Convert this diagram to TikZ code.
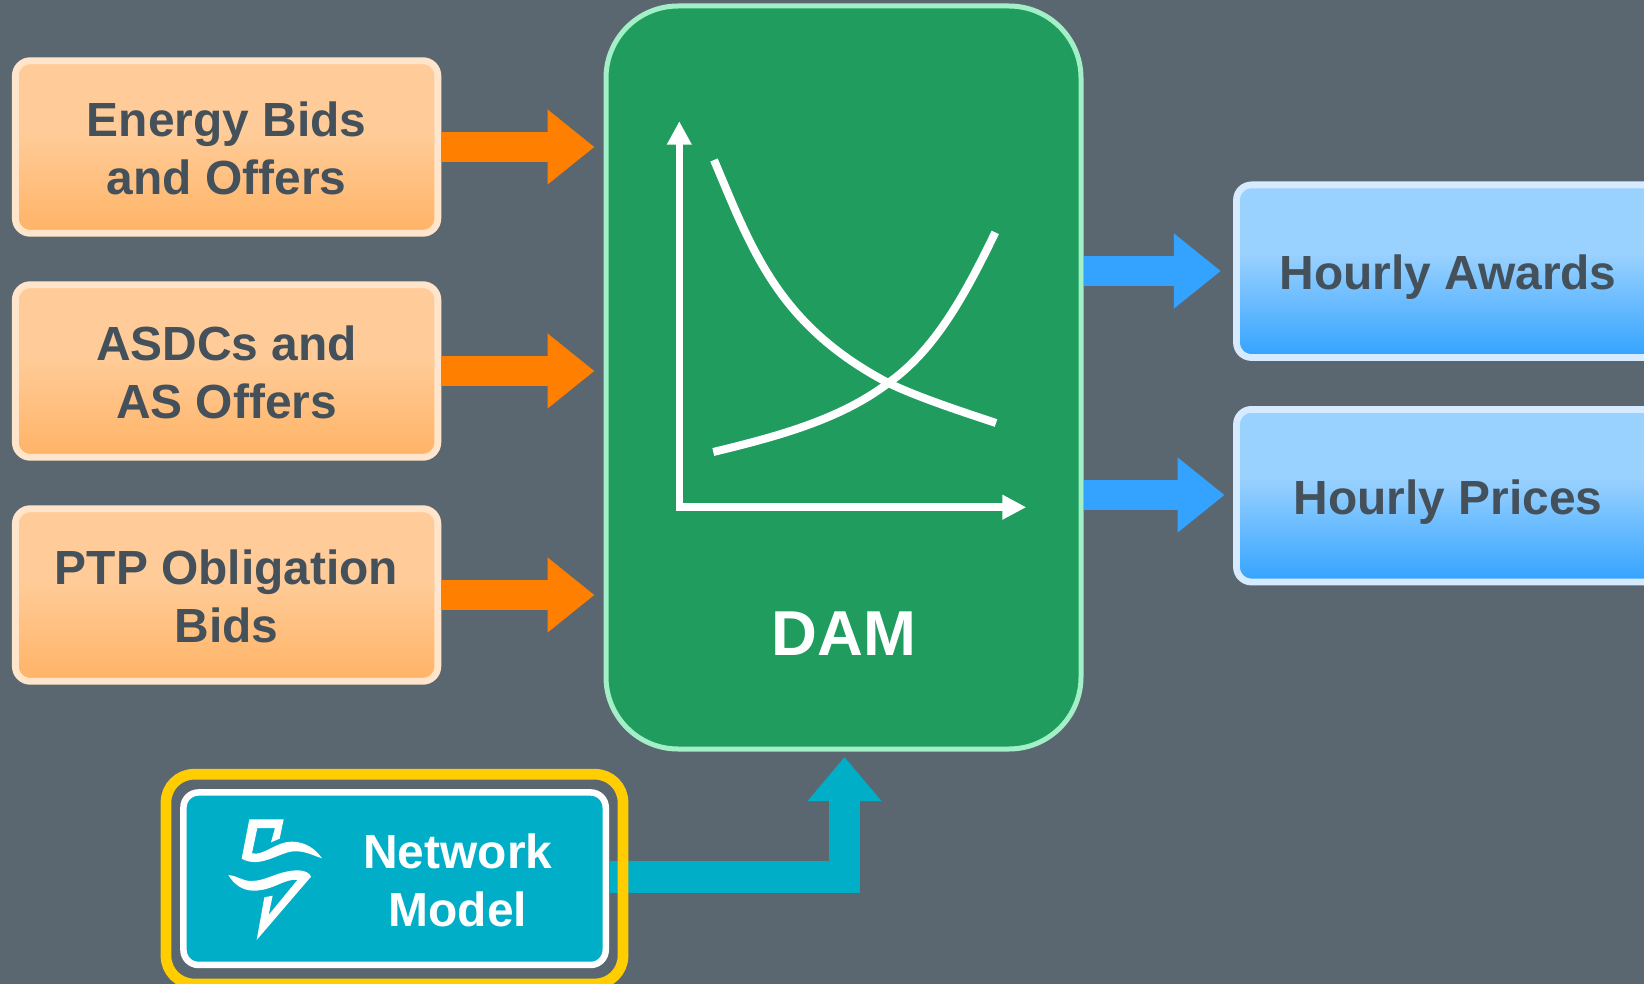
\documentclass[tikz,border=0pt]{standalone}
\usepackage{fontspec}
\setmainfont{Liberation Sans}
\usetikzlibrary{arrows.meta}
\definecolor{bgc}{HTML}{5B6770}
\definecolor{txt}{HTML}{44505A}
\definecolor{orT}{HTML}{FFCC99}
\definecolor{orB}{HTML}{FFB366}
\definecolor{orE}{HTML}{FFE5CC}
\definecolor{orA}{HTML}{FF8000}
\definecolor{blT}{HTML}{99D1FF}
\definecolor{blB}{HTML}{33A3FF}
\definecolor{blE}{HTML}{D6EBFF}
\definecolor{grF}{HTML}{1F9C5E}
\definecolor{grE}{HTML}{A3EFC8}
\definecolor{teal1}{HTML}{00AEC7}
\definecolor{yel}{HTML}{FFCD00}
\pgfdeclareverticalshading{orshade}{100bp}{color(0bp)=(orB); color(25bp)=(orB); color(55bp)=(orT); color(100bp)=(orT)}
\pgfdeclareverticalshading{blshade}{100bp}{color(0bp)=(blB); color(25bp)=(blB); color(55bp)=(blT); color(100bp)=(blT)}
\newcommand{\twolines}[2]{\rule{0pt}{52pt}#1\\#2\rule[-15.3pt]{0pt}{15.3pt}}
\newcommand{\oneline}[1]{\rule[-14.4pt]{0pt}{66.4pt}#1}
\tikzset{
  inbox/.style={shading=orshade, draw=orE, line width=6.8pt, rounded corners=15pt, minimum width=422.5pt, minimum height=172.6pt, inner sep=0pt, align=center, text=txt, font=\fontsize{47.9}{57.7}\selectfont\bfseries},
  outbox/.style={shading=blshade, draw=blE, line width=6.8pt, rounded corners=15pt, minimum width=423pt, minimum height=172.6pt, inner sep=0pt, align=center, text=txt, font=\fontsize{47.9}{57.7}\selectfont\bfseries},
  inarrow/.style={orA, line width=30.5pt, -{Triangle[length=47pt,width=72pt]}, shorten >=9pt},
  outarrow/.style={blB, line width=30.5pt, -{Triangle[length=47pt,width=72pt]}},
  axisline/.style={white, line width=7.6pt, {Triangle[length=23.5pt,width=23.4pt]}-{Triangle[length=24pt,width=23.4pt]}},
  curveline/.style={white, line width=8pt},
}
\begin{document}
\begin{tikzpicture}[x=1pt,y=-1pt]
\clip (0,0) rectangle (1644,984);
\fill[bgc] (0,0) rectangle (1644,984);

% inputs
\node[inbox] (energy) at (226.6,147) {\twolines{Energy Bids}{and Offers}};
\node[inbox] (asdc) at (226.6,371) {\twolines{ASDCs and}{AS Offers}};
\node[inbox] (ptp) at (226.6,595) {\twolines{PTP Obligation}{Bids}};

% market
\node[draw=grE, fill=grF, line width=5pt, rounded corners=72pt, minimum width=475pt, minimum height=743pt, inner sep=0pt] (dam) at (843.5,377.5) {};
\node[anchor=base, text=white, font=\fontsize{63.5}{70}\selectfont\bfseries] (damlabel) at (843.8,655) {DAM};

\draw[inarrow] (energy.east) -- (energy.east -| dam.west);
\draw[inarrow] (asdc.east) -- (asdc.east -| dam.west);
\draw[inarrow] (ptp.east) -- (ptp.east -| dam.west);

% chart
\draw[axisline] (679.3,121.2) -- (679.3,507.2) -- (1026.3,507.2);
\draw[curveline] (714,160) .. controls (752,250) and (778,325) .. (888.3,383) .. controls (920,398) and (960,411) .. (996,423);
\draw[curveline] (713.3,452) .. controls (775,437) and (840,420) .. (888.3,383) .. controls (935,350) and (965,295) .. (995.3,232.4);

% outputs
\node[outbox] (awards) at (1448,271.2) {\oneline{Hourly Awards}};
\node[outbox] (prices) at (1448,495.7) {\oneline{Hourly Prices}};
\coordinate (awtip) at (1220.9,271);
\coordinate (prtip) at (1224.6,495);
\draw[outarrow] (dam.east |- awtip) -- (awtip);
\draw[outarrow] (dam.east |- prtip) -- (prtip);

% network model
\node[fill=teal1, draw=white, line width=6.5pt, rounded corners=15pt, minimum width=422.3pt, minimum height=172.5pt, inner sep=0pt] (net) at (394.6,878.7) {};
\node[align=center, text=white, inner sep=0pt, font=\fontsize{47.9}{58.2}\selectfont\bfseries] (netlabel) at (457.8,897.3) {\rule{0pt}{40pt}Network\\Model\rule[-40pt]{0pt}{40pt}};
\coordinate (nettip) at (844.5,757);
\coordinate (netout) at (609,877);
\draw[teal1, line width=31.5pt, -{Triangle[length=44pt,width=71pt]}] (netout) -| (nettip);
\node[draw=yel, line width=10.7pt, rounded corners=28pt, minimum width=457pt, minimum height=209.7pt, inner sep=0pt] (frame) at (394.5,879.1) {};

% logo
\begin{scope}[shift={(210,800)}, x=0.33333pt, y=-0.33333pt]
\fill[white] (118,58) -- (221,58) -- (209,116) -- (183,127) -- (195,84) -- (142,84) -- (126,160) .. controls (162,168) and (195,126) .. (245,125) .. controls (285,125) and (315,145) .. (336,175) .. controls (305,165) and (285,152) .. (250,154) .. controls (205,158) and (150,207) .. (95,176) -- cycle;
\fill[white] (55,225) .. controls (85,228) and (95,243) .. (125,243) .. controls (170,243) and (205,211) .. (265,211) .. controls (285,211) and (300,220) .. (303,230) -- (140,420) -- (163,292) -- (188,287) -- (176,345) -- (262,240) .. controls (225,234) and (190,272) .. (130,272) .. controls (95,272) and (70,250) .. (55,225) -- cycle;
\end{scope}
\end{tikzpicture}
\end{document}
